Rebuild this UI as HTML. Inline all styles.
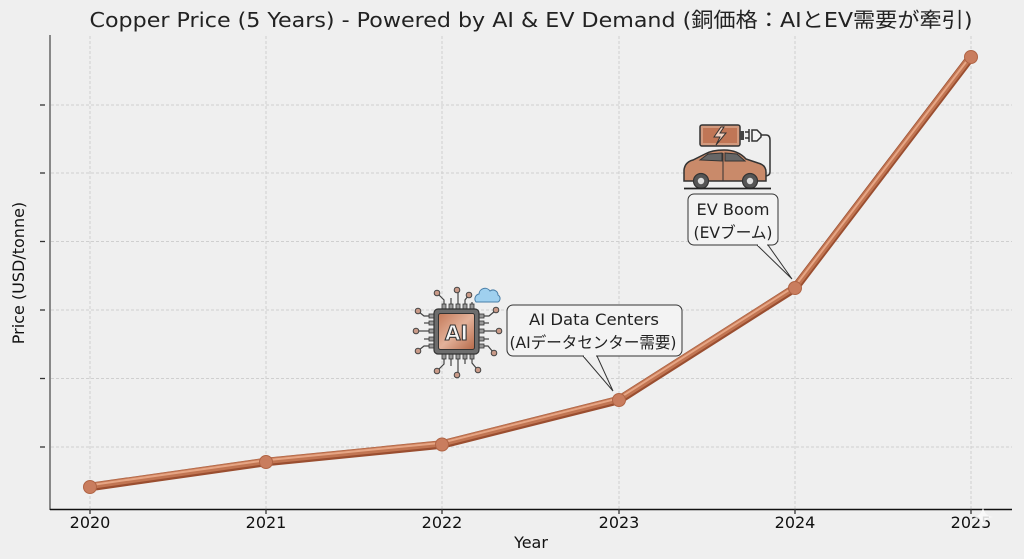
<!DOCTYPE html>
<html><head><meta charset="utf-8"><style>
html,body{margin:0;padding:0;background:#efefef;}
svg{display:block;}
text{font-family:"DejaVu Sans","Liberation Sans","Noto Sans CJK JP",sans-serif;}
</style></head><body>
<svg width="1024" height="559" viewBox="0 0 1024 559" xmlns="http://www.w3.org/2000/svg">
<defs>
<linearGradient id="chipcu" x1="0" y1="0" x2="1" y2="1">
<stop offset="0" stop-color="#c47a5a"/><stop offset="0.5" stop-color="#e3b29a"/><stop offset="1" stop-color="#b56a4a"/>
</linearGradient>
</defs>
<rect width="1024" height="559" fill="#efefef"/>
<!-- title -->
<text x="531" y="27" font-size="20.5" text-anchor="middle" fill="#222" textLength="883" lengthAdjust="spacingAndGlyphs">Copper Price (5 Years) - Powered by AI &amp; EV Demand (銅価格：AIとEV需要が牽引)</text>
<!-- grid -->
<g stroke="#cfcfcf" stroke-width="1" stroke-dasharray="3,2">
<line x1="51" y1="105" x2="1012" y2="105"/>
<line x1="51" y1="173" x2="1012" y2="173"/>
<line x1="51" y1="241.5" x2="1012" y2="241.5"/>
<line x1="51" y1="310" x2="1012" y2="310"/>
<line x1="51" y1="378.5" x2="1012" y2="378.5"/>
<line x1="51" y1="447" x2="1012" y2="447"/>
<line x1="90" y1="36" x2="90" y2="509"/>
<line x1="266" y1="36" x2="266" y2="509"/>
<line x1="442" y1="36" x2="442" y2="509"/>
<line x1="619" y1="36" x2="619" y2="509"/>
<line x1="795" y1="36" x2="795" y2="509"/>
<line x1="971" y1="36" x2="971" y2="509"/>
</g>
<!-- spines -->
<line x1="50" y1="35" x2="50" y2="510" stroke="#666" stroke-width="1.5"/>
<line x1="50" y1="509.5" x2="1012" y2="509.5" stroke="#111" stroke-width="1.5"/>
<g stroke="#333" stroke-width="1.3">
<line x1="40" y1="105" x2="45" y2="105"/><line x1="40" y1="173" x2="45" y2="173"/>
<line x1="40" y1="241.5" x2="45" y2="241.5"/><line x1="40" y1="310" x2="45" y2="310"/>
<line x1="40" y1="378.5" x2="45" y2="378.5"/><line x1="40" y1="447" x2="45" y2="447"/>
<line x1="90" y1="509" x2="90" y2="514"/><line x1="266" y1="509" x2="266" y2="514"/>
<line x1="442" y1="509" x2="442" y2="514"/><line x1="619" y1="509" x2="619" y2="514"/>
<line x1="795" y1="509" x2="795" y2="514"/><line x1="971" y1="509" x2="971" y2="514"/>
</g>
<!-- tick labels -->
<g font-size="16" fill="#111" text-anchor="middle">
<text x="90" y="528">2020</text><text x="266" y="528">2021</text><text x="442" y="528">2022</text>
<text x="619" y="528">2023</text><text x="795" y="528">2024</text><text x="971" y="528">2025</text>
</g>
<text x="531" y="548" font-size="16" text-anchor="middle" fill="#111">Year</text>
<text transform="translate(24,273) rotate(-90)" font-size="16" text-anchor="middle" fill="#111">Price (USD/tonne)</text>
<!-- line -->
<g fill="none" stroke-linejoin="round" stroke-linecap="round">
<polyline points="90,487 266,462 442,444.5 619,400 795,288 971,57" stroke="#9a4e30" stroke-width="8.5"/>
<polyline points="90,486 266,461 442,443.5 619,399 795,287 971,56" stroke="#c17552" stroke-width="6"/>
<polyline points="90,485.2 266,460.2 442,442.7 619,398.2 795,286.2 971,55.5" stroke="#eaab89" stroke-width="2" opacity="0.9"/>
</g>
<g fill="#c97d5e" stroke="#b06445" stroke-width="1">
<circle cx="90" cy="487" r="6.5"/><circle cx="266" cy="462" r="6.5"/><circle cx="442" cy="444.5" r="6.5"/>
<circle cx="619" cy="400" r="6.5"/><circle cx="795" cy="288" r="6.5"/><circle cx="971" cy="57" r="6.5"/>
</g>
<!-- AI annotation -->
<path d="M583,356 L613,391 L597,356" fill="none" stroke="#333" stroke-width="1"/>
<rect x="507" y="305" width="175" height="51" rx="6" fill="#f3f3f3" stroke="#333" stroke-width="1"/>
<line x1="584" y1="356" x2="596" y2="356" stroke="#f3f3f3" stroke-width="2"/>
<text x="594" y="325" font-size="16" text-anchor="middle" fill="#222" textLength="130" lengthAdjust="spacingAndGlyphs">AI Data Centers</text>
<text x="593" y="348" font-size="16" text-anchor="middle" fill="#222" textLength="167" lengthAdjust="spacingAndGlyphs">(AIデータセンター需要)</text>
<!-- EV annotation -->
<path d="M757,245 L792,279 L768,245" fill="none" stroke="#333" stroke-width="1"/>
<rect x="688" y="194" width="90" height="51" rx="6" fill="#f3f3f3" stroke="#333" stroke-width="1"/>
<line x1="758" y1="245" x2="767" y2="245" stroke="#f3f3f3" stroke-width="2"/>
<text x="733" y="215" font-size="16" text-anchor="middle" fill="#222" textLength="73" lengthAdjust="spacingAndGlyphs">EV Boom</text>
<text x="733" y="238" font-size="16" text-anchor="middle" fill="#222" textLength="79" lengthAdjust="spacingAndGlyphs">(EVブーム)</text>
<!-- AI chip icon -->
<g stroke="#444" stroke-width="1.2" fill="none">
<path d="M444,309 L444,300 L438,294"/><path d="M451,309 L451,298"/><path d="M458,309 L458,292"/><path d="M465,309 L465,300 L468,296"/><path d="M472,309 L472,302"/>
<path d="M444,354 L444,364 L438,370"/><path d="M451,354 L451,366"/><path d="M458,354 L458,373"/><path d="M465,354 L465,364"/><path d="M472,354 L472,363 L477,369"/>
<path d="M434,316 L424,316 L419,312"/><path d="M434,323 L424,323"/><path d="M434,331 L418,331"/><path d="M434,339 L424,339"/><path d="M434,346 L424,346 L419,350"/>
<path d="M479,316 L489,316 L495,311"/><path d="M479,323 L489,323"/><path d="M479,331 L497,331"/><path d="M479,339 L489,339"/><path d="M479,346 L488,346 L493,352"/>
</g>
<g fill="#c99a88" stroke="#444" stroke-width="1">
<circle cx="437" cy="293" r="2.8"/><circle cx="457" cy="290" r="2.8"/><circle cx="469" cy="295" r="2.8"/>
<circle cx="437" cy="371" r="2.8"/><circle cx="457" cy="375" r="2.8"/><circle cx="478" cy="370" r="2.8"/>
<circle cx="418" cy="311" r="2.8"/><circle cx="416" cy="331" r="2.8"/><circle cx="418" cy="351" r="2.8"/>
<circle cx="496" cy="310" r="2.8"/><circle cx="499" cy="331" r="2.8"/><circle cx="494" cy="353" r="2.8"/>
</g>
<g fill="#999" stroke="#333" stroke-width="0.8">
<rect x="442" y="304" width="4" height="6"/><rect x="449" y="304" width="4" height="6"/><rect x="456" y="304" width="4" height="6"/><rect x="463" y="304" width="4" height="6"/><rect x="470" y="304" width="4" height="6"/>
<rect x="442" y="353" width="4" height="6"/><rect x="449" y="353" width="4" height="6"/><rect x="456" y="353" width="4" height="6"/><rect x="463" y="353" width="4" height="6"/><rect x="470" y="353" width="4" height="6"/>
<rect x="429" y="314" width="6" height="4"/><rect x="429" y="321" width="6" height="4"/><rect x="429" y="329" width="6" height="4"/><rect x="429" y="337" width="6" height="4"/><rect x="429" y="344" width="6" height="4"/>
<rect x="478" y="314" width="6" height="4"/><rect x="478" y="321" width="6" height="4"/><rect x="478" y="329" width="6" height="4"/><rect x="478" y="337" width="6" height="4"/><rect x="478" y="344" width="6" height="4"/>
</g>
<rect x="434" y="309" width="45" height="45" rx="4" fill="#6d6d6d" stroke="#333" stroke-width="1.2"/>
<rect x="438.5" y="313.5" width="36" height="36" rx="2" fill="url(#chipcu)" stroke="#333" stroke-width="1"/>
<text x="456.5" y="340" font-size="20" text-anchor="middle" fill="#f5f5f5" stroke="#333" stroke-width="1.1" font-weight="bold">AI</text>
<path d="M476,302 a5,5 0 0 1 3,-8 a6,6 0 0 1 11,-3 a5,5 0 0 1 8,4 a4,4 0 0 1 0,7 z" fill="#9fd0ef" stroke="#4a7fa8" stroke-width="1"/>
<!-- EV icon -->
<rect x="700" y="125" width="40" height="21" rx="2" fill="#d29a7e" stroke="#333" stroke-width="1.5"/>
<rect x="703" y="128" width="34" height="15" fill="#c07656"/>
<rect x="740" y="131" width="4" height="9" fill="#444"/>
<path d="M721,127 L714,137 L720,137 L716,145 L726,133 L720,133 L724,127 z" fill="#f3d0bf" stroke="#333" stroke-width="1"/>
<path d="M752,130 L757,130 L761,134 L761,137 L757,141 L752,141 Z" fill="#f3f3f3" stroke="#333" stroke-width="1.5"/>
<line x1="749" y1="129" x2="749" y2="142" stroke="#333" stroke-width="1.5"/>
<line x1="749" y1="132" x2="745" y2="132" stroke="#333" stroke-width="1.5"/><line x1="749" y1="138" x2="745" y2="138" stroke="#333" stroke-width="1.5"/>
<path d="M761,135 L766,135 Q770,135 770,140 L770,172 Q770,176 764,176" fill="none" stroke="#333" stroke-width="1.5"/>
<path d="M684,181 L684,170 Q685,162 693,160 L705,154 Q712,150 724,150 Q738,150 746,159 L758,163 Q766,165 766,172 L766,181 Z" fill="#c98a6a" stroke="#333" stroke-width="1.5"/>
<path d="M700,160 L708,154 L722,153 L722,161 Z" fill="#666" stroke="#333" stroke-width="1"/>
<path d="M725,153 L737,154 L745,161 L725,161 Z" fill="#666" stroke="#333" stroke-width="1"/>
<line x1="723" y1="153" x2="723" y2="181" stroke="#333" stroke-width="1"/>
<circle cx="701" cy="181" r="7.5" fill="#555" stroke="#333" stroke-width="1.2"/><circle cx="701" cy="181" r="3.2" fill="#ddd"/>
<circle cx="750" cy="181" r="7.5" fill="#555" stroke="#333" stroke-width="1.2"/><circle cx="750" cy="181" r="3.2" fill="#ddd"/>
<line x1="684" y1="188.5" x2="771" y2="188.5" stroke="#222" stroke-width="1.8"/>
<!-- sparkle -->
<path d="M983,506 Q984,516 993,517 Q984,518 983,528 Q982,518 973,517 Q982,516 983,506 Z" fill="#fafafa" opacity="0.85"/>
</svg>
</body></html>
